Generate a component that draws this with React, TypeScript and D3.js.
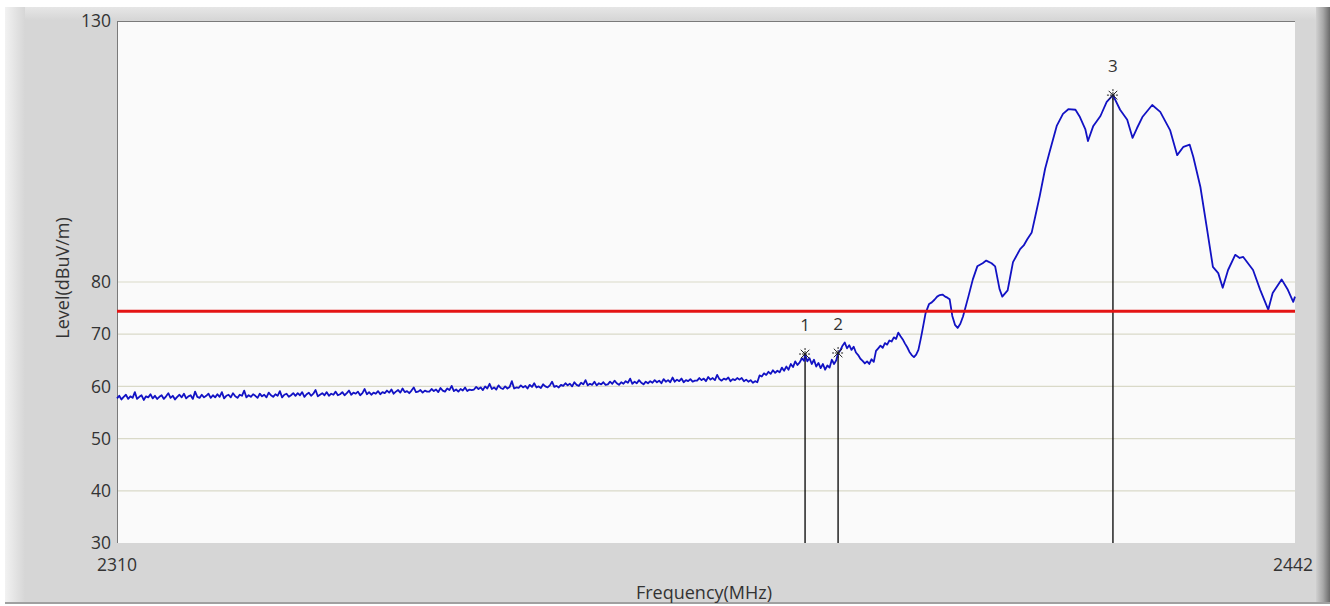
import React from "react";
import * as d3 from "d3";

const W = 1330;
const H = 606;

// Frequency axis / level axis
const freqDomain: [number, number] = [2310, 2442];
const levelDomain: [number, number] = [30, 130];
const yTicks = [30, 40, 50, 60, 70, 80, 130];
const gridLevels = [40, 50, 60, 70, 80];
const xTickLabels = [2310, 2442];
const limitLevel = 74.4;

// Noise floor trace, 0.25 MHz steps from 2310 MHz
const floorStart = 2310;
const floorStep = 0.25;
const floorLevels = [
  57.7, 58.2, 57.5, 58.0, 58.4, 57.6, 58.1, 57.8, 58.9, 57.6, 58.0, 58.3, 57.4, 58.1, 57.9, 58.5, 57.7, 58.2, 57.6, 58.0,
  58.3, 57.6, 58.1, 58.7, 57.8, 58.2, 57.5, 58.0, 58.4, 57.9, 58.6, 57.7, 58.1, 58.3, 57.6, 59.0, 58.0, 57.8, 58.4, 57.9,
  58.2, 58.6, 57.8, 58.3, 57.9, 58.5, 58.0, 58.9, 57.7, 58.2, 58.4, 57.9, 58.7, 58.1, 57.8, 58.4, 58.2, 59.2, 57.9, 58.3,
  58.0, 58.5, 58.2, 57.8, 58.6, 58.1, 58.4, 57.9, 58.8, 58.3, 58.0, 58.5, 58.2, 59.1, 57.9, 58.4, 58.6, 58.0, 58.3, 58.7,
  58.2, 58.7, 58.3, 58.9, 58.0, 58.5, 58.8, 58.2, 58.6, 59.3, 58.1, 58.4, 58.7, 58.3, 58.9, 58.2, 58.6, 58.4, 59.0, 58.3,
  58.5, 58.9, 58.3, 58.7, 59.2, 58.4, 58.8, 58.6, 59.0, 58.3, 58.7, 59.5, 58.5, 58.9, 58.4, 58.8, 58.6, 59.1, 58.5, 58.9,
  58.7, 59.2, 58.8, 59.4, 58.6, 59.0, 59.3, 58.8, 59.6, 58.9, 59.1, 58.7, 59.2, 59.8, 58.9, 59.0, 59.3, 58.8, 59.2, 59.0,
  59.0, 59.5, 59.1, 59.4, 58.9, 59.7, 59.2, 59.0, 59.6, 59.3, 60.1, 59.1, 59.4, 59.0, 59.5, 59.2, 59.8, 59.1, 59.4, 59.3,
  59.4, 59.9, 59.5, 59.8, 59.3, 60.0, 59.6, 60.5, 59.5, 59.8, 59.4, 60.2, 59.7, 59.5, 60.0, 59.6, 59.9, 61.0, 59.6, 59.8,
  59.7, 60.2, 59.8, 60.1, 59.6, 60.3, 59.9, 60.6, 59.8, 60.0, 59.7, 60.4, 60.0, 59.8, 60.2, 60.9, 59.9, 60.1, 59.8, 60.3,
  60.1, 60.6, 60.2, 60.5, 60.0, 60.8, 60.3, 60.1, 60.7, 60.4, 61.2, 60.2, 60.5, 60.3, 60.9, 60.2, 60.6, 60.4, 60.8, 60.3,
  60.4, 60.9, 60.5, 61.1, 60.6, 60.3, 60.8, 60.5, 61.0, 60.7, 61.5, 60.5, 60.9, 60.6, 61.2, 60.7, 60.4, 60.9, 60.6, 61.0,
  60.7, 61.2, 60.8, 61.1, 60.6, 61.4, 60.9, 61.2, 60.8, 61.7, 60.9, 61.3, 61.0, 61.5, 60.8, 61.2, 61.0, 61.4, 60.9, 61.1,
  61.1, 61.6, 61.2, 61.5, 61.0, 61.8, 61.3, 61.6, 61.2, 62.2, 61.4, 61.1, 61.5, 61.3, 61.7, 61.0, 61.4, 61.2, 61.6, 61.3,
  61.6, 61.0, 61.3, 60.9, 61.2, 60.7, 61.0, 60.8, 62.1, 61.9, 62.5, 62.2, 62.8, 62.4, 63.1, 62.6, 63.0,
];

// Signal region trace
const signalFreqs = [
  2384.25, 2384.5, 2384.75, 2385.0, 2385.25, 2385.5, 2385.75, 2386.0, 2386.25, 2386.5, 2386.75, 2387.0, 2387.1,
  2387.35, 2387.6, 2387.85, 2388.1, 2388.35, 2388.6, 2388.85, 2389.1, 2389.35, 2389.6, 2389.85, 2390.1, 2390.35,
  2390.6, 2390.8, 2391.05, 2391.3, 2391.55, 2391.8, 2392.05, 2392.3, 2392.55, 2392.8, 2393.05, 2393.3, 2393.55,
  2393.8, 2394.05, 2394.3, 2394.55, 2394.8, 2395.05, 2395.3, 2395.55, 2395.8, 2396.05, 2396.3, 2396.55, 2396.8,
  2397.05, 2397.3, 2397.55, 2397.8, 2398.05, 2398.3, 2398.55, 2398.8, 2399.05, 2399.3, 2399.55, 2399.8, 2400.05,
  2400.2, 2400.6, 2401.0, 2401.3, 2401.6, 2401.9, 2402.2, 2402.5, 2402.8, 2403.05, 2403.3, 2403.6, 2403.9, 2404.2,
  2404.5, 2404.8, 2405.4, 2405.9, 2406.4, 2407.0, 2407.4, 2408.0, 2408.4, 2408.9, 2409.2, 2409.8, 2410.1, 2410.4,
  2411.2, 2411.6, 2412.0, 2412.5, 2412.9, 2413.4, 2414.0, 2414.5, 2414.9, 2415.3, 2416.0, 2416.6, 2417.4, 2417.9,
  2418.5, 2418.8, 2419.4, 2420.2, 2420.9, 2421.6, 2422.4, 2423.2, 2423.8, 2424.3, 2424.9, 2426.0, 2426.9, 2428.0,
  2428.8, 2429.5, 2430.2, 2430.6, 2431.4, 2432.1, 2432.8, 2433.4, 2433.9, 2434.5, 2435.3, 2435.8, 2436.2, 2437.3,
  2438.1, 2439.0, 2439.5, 2440.5, 2441.2, 2441.8, 2442.0,
];
const signalLevels = [
  62.7, 63.6, 63.0, 63.8, 63.2, 64.3, 63.7, 64.8, 64.1, 64.6, 65.4, 64.9, 66.2,
  64.8, 65.4, 64.3, 65.1, 63.8, 64.5, 63.5, 64.3, 63.2, 64.0, 63.6, 65.1, 64.3,
  65.0, 66.4, 66.9, 67.8, 68.4, 67.3, 67.9, 67.0, 67.6, 66.5, 66.0, 65.3, 64.9,
  64.4, 64.8, 64.3, 65.2, 64.7, 66.8, 67.3, 67.8, 67.4, 68.3, 68.0, 68.8, 68.6,
  69.4, 69.1, 70.3, 69.6, 69.0, 68.2, 67.5, 66.6, 66.0, 65.6, 66.1, 67.0, 69.0,
  70.3, 74.0, 75.8, 76.1, 76.6, 77.2, 77.5, 77.6, 77.2, 77.0, 76.7, 73.5, 71.8, 71.2,
  72.0, 73.4, 77.2, 80.5, 83.0, 83.6, 84.1, 83.6, 83.0, 78.6, 77.2, 78.4, 81.1, 83.8,
  86.3, 87.0, 88.2, 89.5, 92.6, 96.5, 101.7, 104.9, 107.4, 109.9, 112.2, 113.1, 113.0, 111.6,
  109.3, 107.0, 109.9, 111.8, 114.5, 115.8, 113.0, 111.1, 107.6, 109.5, 111.6, 113.9, 112.6, 109.1,
  104.3, 105.9, 106.3, 104.0, 98.2, 90.6, 82.9, 81.7, 78.9, 82.3, 85.2, 84.6, 84.8, 82.3,
  78.5, 74.7, 77.9, 80.5, 78.5, 76.2, 77.2,
];

// Markers
const markerLabels = ["1", "2", "3"];
const markerFreqs = [2387.1, 2390.8, 2421.6];
const markerLevels = [66.2, 66.4, 115.8];

const FONT = "'Open Sans', 'Noto Sans', sans-serif";

export default function App() {
  const left = 117;
  const right = 1295;
  const top = 21;
  const bottom = 543;

  const x = d3.scaleLinear().domain(freqDomain).range([left, right]);
  const y = d3.scaleLinear().domain(levelDomain).range([bottom, top]);

  const points: [number, number][] = [
    ...floorLevels.map((v, i) => [floorStart + i * floorStep, v] as [number, number]),
    ...signalFreqs.map((f, i) => [f, signalLevels[i]] as [number, number]),
  ];
  const line = d3
    .line<[number, number]>()
    .x((d) => x(d[0]))
    .y((d) => y(d[1]));

  return (
    <svg
      width={W}
      height={H}
      style={{ position: "absolute", left: 0, top: 0, display: "block" }}
      fontFamily={FONT}
    >
      <defs>
        <linearGradient id="leftEdge" x1="0" x2="1" y1="0" y2="0">
          <stop offset="0" stopColor="#f2f2f2" />
          <stop offset="1" stopColor="#d6d6d6" />
        </linearGradient>
        <linearGradient id="topEdge" x1="0" x2="0" y1="0" y2="1">
          <stop offset="0" stopColor="#e6e6e6" />
          <stop offset="1" stopColor="#d6d6d6" />
        </linearGradient>
        <linearGradient id="rightEdge" x1="0" x2="1" y1="0" y2="0">
          <stop offset="0" stopColor="#d0d0d0" />
          <stop offset="0.5" stopColor="#a8a8a8" />
          <stop offset="1" stopColor="#6a6a6a" />
        </linearGradient>
      </defs>
      <rect x={0} y={0} width={W} height={H} fill="#ffffff" />
      <rect x={5} y={7} width={W - 5} height={H - 9} fill="#d6d6d6" />
      <rect x={5} y={7} width={W - 5} height={13} fill="url(#topEdge)" />
      <rect x={5} y={7} width={20} height={H - 9} fill="url(#leftEdge)" />
      <rect x={1316} y={7} width={14} height={H - 9} fill="url(#rightEdge)" />
      <rect x={5} y={H - 4} width={W - 5} height={2} fill="#a0a0a0" />

      {/* plot area */}
      <rect x={left} y={top} width={right - left} height={bottom - top} fill="#fafafa" />
      {gridLevels.map((g) => (
        <line key={g} x1={left} x2={right} y1={y(g)} y2={y(g)} stroke="#d9d9c8" strokeWidth={1.2} />
      ))}
      <line x1={left + 0.5} x2={left + 0.5} y1={top} y2={bottom} stroke="#7a7a7a" strokeWidth={1} />
      <line x1={left} x2={right} y1={top + 0.5} y2={top + 0.5} stroke="#7a7a7a" strokeWidth={1} />

      {/* marker lines */}
      {markerFreqs.map((f, i) => (
        <line
          key={"ml" + i}
          x1={x(f)}
          x2={x(f)}
          y1={y(markerLevels[i])}
          y2={bottom}
          stroke="#000"
          strokeWidth={1.3}
        />
      ))}

      {/* trace */}
      <path d={line(points) || ""} fill="none" stroke="#1212c4" strokeWidth={1.8} strokeLinejoin="round" />

      {/* limit line */}
      <line x1={left} x2={right} y1={y(limitLevel)} y2={y(limitLevel)} stroke="#e41414" strokeWidth={3} />

      {/* markers */}
      {markerFreqs.map((f, i) => {
        const cx = x(f);
        const cy = y(markerLevels[i]);
        const r = 6;
        const d = 4.3;
        return (
          <g key={"mk" + i}>
            <line x1={cx - r} x2={cx + r} y1={cy} y2={cy} stroke="#222" strokeWidth={1} strokeDasharray="2,1" />
            <line x1={cx} x2={cx} y1={cy - r} y2={cy + r} stroke="#222" strokeWidth={1} strokeDasharray="2,1" />
            <line x1={cx - d} x2={cx + d} y1={cy - d} y2={cy + d} stroke="#222" strokeWidth={1} />
            <line x1={cx - d} x2={cx + d} y1={cy + d} y2={cy - d} stroke="#222" strokeWidth={1} />
            <text x={cx} y={cy - 23} textAnchor="middle" fontSize={17} fill="#333">
              {markerLabels[i]}
            </text>
          </g>
        );
      })}

      {/* y tick labels */}
      {yTicks.map((t) => (
        <text key={"yt" + t} x={111} y={y(t)} dy="0.35em" textAnchor="end" fontSize={17.5} fill="#333">
          {t}
        </text>
      ))}
      {/* x tick labels */}
      {xTickLabels.map((t, i) => (
        <text
          key={"xt" + t}
          x={i === 0 ? x(t) : x(t) - 2}
          y={565}
          dy="0.35em"
          textAnchor="middle"
          fontSize={17.5}
          fill="#333"
        >
          {t}
        </text>
      ))}
      <text x={704} y={593} dy="0.35em" textAnchor="middle" fontSize={18} fill="#333">
        Frequency(MHz)
      </text>
      <text
        transform={`translate(63,${278}) rotate(-90)`}
        textAnchor="middle"
        dy="0.35em"
        fontSize={18}
        fill="#333"
      >
        Level(dBuV/m)
      </text>
    </svg>
  );
}
